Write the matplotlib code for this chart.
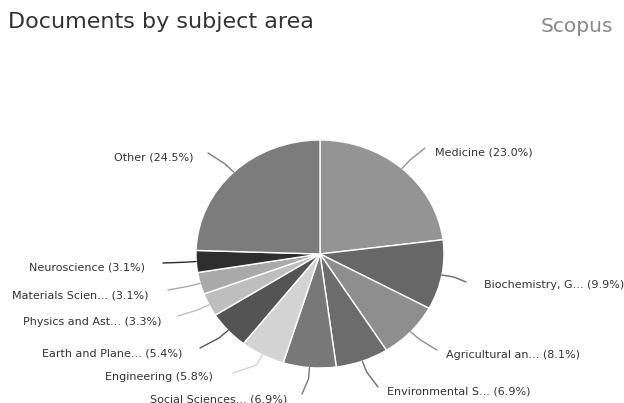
import numpy as np
import matplotlib
matplotlib.use("Agg")
import matplotlib.pyplot as plt

subjects = ["Medicine", "Biochemistry, G...", "Agricultural an...", "Environmental S...",
            "Social Sciences...", "Engineering", "Earth and Plane...", "Physics and Ast...",
            "Materials Scien...", "Neuroscience", "Other"]
shares = [23.0, 9.9, 8.1, 6.9, 6.9, 5.8, 5.4, 3.3, 3.1, 3.1, 24.5]

colors = ["#949494", "#676767", "#8e8e8e", "#6c6c6c", "#787878", "#d3d3d3",
          "#545454", "#bebebe", "#a9a9a9", "#2e2e2e", "#7c7c7c"]

# label layout in pixels: text anchor, alignment, end of the connector
text_pos = [(435, 153, "left"), (484, 285, "left"), (446, 355, "left"), (387, 392, "left"),
            (287, 399, "right"), (213, 377, "right"), (182, 353, "right"), (161, 322, "right"),
            (149, 295, "right"), (145, 268, "right"), (193, 158, "right")]
line_end = [(425, 148), (466, 282), (437, 350), (378, 387),
            (302, 394), (233, 373), (200, 348), (178, 316),
            (168, 290), (163, 263), (208, 153)]

W, H = 624, 403
cx, cy, rx, ry = 320, 254, 124, 114

fig = plt.figure(figsize=(W / 100, H / 100), dpi=100)
ax = fig.add_axes([0, 0, 1, 1])

wedges, _ = ax.pie(shares, colors=colors, startangle=90, counterclock=False,
                   wedgeprops=dict(edgecolor="white", linewidth=1.0))
ax.set_aspect("auto")
ax.set_xlim(-cx / rx, (W - cx) / rx)
ax.set_ylim(-(H - cy) / ry, cy / ry)
ax.axis("off")


def px(x, y):
    return (x - cx) / rx, (cy - y) / ry


for i, w in enumerate(wedges):
    mid = np.deg2rad((w.theta1 + w.theta2) / 2)
    x0, y0 = np.cos(mid), np.sin(mid)
    xm, ym = 1.1 * x0, 1.1 * y0
    xe, ye = px(*line_end[i])
    ax.plot([x0, xm, xe], [y0, ym, ye], color=colors[i], lw=1.0, solid_capstyle="round")
    tx, ty = px(text_pos[i][0], text_pos[i][1])
    ax.text(tx, ty, f"{subjects[i]} ({shares[i]:.1f}%)", ha=text_pos[i][2], va="center",
            fontsize=8, color="#333333", family="DejaVu Sans")

fig.text(8 / W, 1 - 22 / H, "Documents by subject area", ha="left", va="center",
         fontsize=16, color="#333333", family="DejaVu Sans")
fig.text(613 / W, 1 - 27 / H, "Scopus", ha="right", va="center",
         fontsize=14.5, color="#888888", family="DejaVu Sans")

fig.savefig("out.png", dpi=100)
